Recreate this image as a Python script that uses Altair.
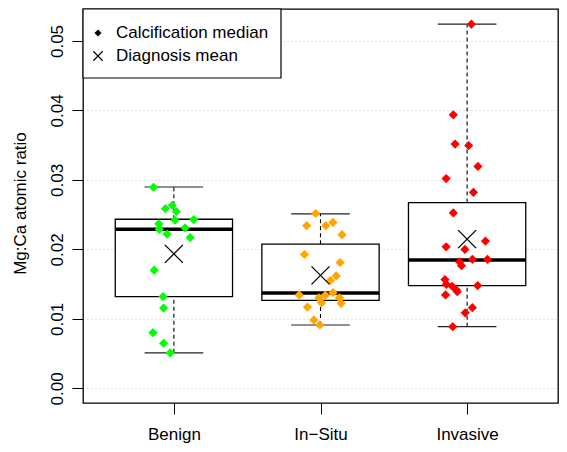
import json
import altair as alt
import pandas as pd

# ---------------- data ----------------
categories = ["Benign", "In\u2212Situ", "Invasive"]
cat_colors = ["#00FF00", "#FFA500", "#FF0000"]
positions = [1, 2, 3]

benign_vals = [0.02895, 0.02636, 0.02586, 0.02545, 0.02429, 0.02420, 0.02369, 0.02290,
               0.02310, 0.02221, 0.02171, 0.01701, 0.01322, 0.01156, 0.00802, 0.00650, 0.00512]
benign_jit = [-0.139, -0.011, -0.058, 0.017, 0.136, 0.007, -0.103, -0.100,
              0.076, -0.047, 0.111, -0.134, -0.074, -0.070, -0.143, -0.070, -0.025]

insitu_vals = [0.02517, 0.02342, 0.02342, 0.02388, 0.02213, 0.01927, 0.01812, 0.01618,
               0.01553, 0.01346, 0.01378, 0.01342, 0.01304, 0.01304, 0.01231, 0.01225,
               0.01170, 0.00986, 0.00913]
insitu_jit = [-0.033, -0.094, 0.036, 0.085, 0.147, -0.109, 0.134, 0.107,
              0.067, -0.145, 0.085, 0.033, -0.011, 0.129, 0.007, 0.141,
              -0.089, -0.045, -0.005]

invasive_vals = [0.05242, 0.03937, 0.03517, 0.03494, 0.03195, 0.03019, 0.02822, 0.02526,
                 0.02120, 0.02037, 0.02000, 0.01858, 0.01858, 0.01820, 0.01765, 0.01567,
                 0.01498, 0.01470, 0.01419, 0.01391, 0.01480, 0.01346, 0.01162, 0.01087,
                 0.00889]
invasive_jit = [0.029, -0.094, -0.082, 0.011, 0.074, -0.143, 0.043, -0.094,
                0.125, -0.143, -0.015, 0.036, 0.139, -0.051, -0.038, -0.151,
                -0.141, -0.102, -0.074, -0.067, 0.072, -0.147, 0.036, -0.013,
                -0.098]

box_low = [0.00512, 0.00913, 0.00889]
box_q1 = [0.01322, 0.01267, 0.01480]
box_median = [0.02290, 0.01373, 0.01848]
box_q3 = [0.02434, 0.02075, 0.02674]
box_high = [0.02899, 0.02512, 0.05242]
diag_mean = [0.01936, 0.01627, 0.02148]

y_ticks = [0.00, 0.01, 0.02, 0.03, 0.04, 0.05]
y_title = "Mg:Ca atomic ratio"
legend_labels = ["Calcification median", "Diagnosis mean"]

# ---------------- tables ----------------
rows = []
for cat, pos, vals, jits in zip(categories, positions,
                                [benign_vals, insitu_vals, invasive_vals],
                                [benign_jit, insitu_jit, invasive_jit]):
    for v, j in zip(vals, jits):
        rows.append({"category": cat, "pos": pos, "value": v, "jitter": j})
points_df = pd.DataFrame(rows)

box_df = pd.DataFrame({
    "category": categories, "pos": positions, "low": box_low, "q1": box_q1,
    "median": box_median, "q3": box_q3, "high": box_high, "mean": diag_mean,
})

BOXHALF = 0.4
STAPLEHALF = 0.2
X_PATH = "M-1,-1L1,1M1,-1L-1,1"
FONT = "Liberation Sans"

x_scale = alt.Scale(domain=[0.38, 3.62], nice=False, zero=False)
y_scale = alt.Scale(domain=[-0.0021, 0.0546], nice=False, zero=False)

label_expr = json.dumps(categories, ensure_ascii=False) + "[datum.value - 1]"
x_axis = alt.Axis(values=positions, labelExpr=label_expr, title=None, grid=False,
                  tickSize=11, labelPadding=25, labelBaseline="alphabetic",
                  domain=False)
y_axis = alt.Axis(values=y_ticks, format=".2f", title=y_title, grid=True,
                  gridDash=[1, 3], gridColor="#C8C8C8", gridWidth=1,
                  tickSize=11, labelAngle=270, labelAlign="center",
                  labelBaseline="alphabetic", labelPadding=10,
                  titleX=-63, titleY=194, titleAngle=270, titleAlign="center",
                  titleBaseline="middle", domain=False)


def X(field):
    return alt.X(field, type="quantitative", scale=x_scale, axis=x_axis)


def Y(field):
    return alt.Y(field, type="quantitative", scale=y_scale, axis=y_axis)


box_base = alt.Chart(box_df).transform_calculate(
    xl=f"datum.pos - {BOXHALF}", xr=f"datum.pos + {BOXHALF}",
    sl=f"datum.pos - {STAPLEHALF}", sr=f"datum.pos + {STAPLEHALF}",
)

whisk_up = box_base.mark_rule(color="black", strokeWidth=1.1, strokeDash=[4, 3]).encode(
    x=X("pos"), y=Y("q3"), y2="high")
whisk_lo = box_base.mark_rule(color="black", strokeWidth=1.1, strokeDash=[4, 3]).encode(
    x=X("pos"), y=Y("low"), y2="q1")
staple_up = box_base.mark_rule(color="#222222", strokeWidth=1.1).encode(
    x=X("sl"), x2="sr", y=Y("high"))
staple_lo = box_base.mark_rule(color="#222222", strokeWidth=1.1).encode(
    x=X("sl"), x2="sr", y=Y("low"))
boxes = box_base.mark_rect(fill="white", stroke="black", strokeWidth=1.3).encode(
    x=X("xl"), x2="xr", y=Y("q1"), y2="q3")
medians = box_base.mark_rule(color="black", strokeWidth=3.5).encode(
    x=X("xl"), x2="xr", y=Y("median"))

pts = alt.Chart(points_df).transform_calculate(
    xj="datum.pos + datum.jitter"
).mark_point(shape="diamond", filled=True, size=85, opacity=1, strokeWidth=0).encode(
    x=X("xj"), y=Y("value"),
    color=alt.Color("category:N", scale=alt.Scale(domain=categories, range=cat_colors),
                    legend=None),
)

means = box_base.mark_point(shape=X_PATH, filled=False, size=324, color="black",
                            strokeWidth=1.3, opacity=1).encode(
    x=X("pos"), y=Y("mean"))

# ---------------- manual legend ----------------
leg_df = pd.DataFrame({"label": legend_labels})
leg_box = alt.Chart(leg_df.head(1)).mark_rect(fill="white", stroke="black", strokeWidth=1.2).encode(
    x=alt.value(0), x2=alt.value(198), y=alt.value(0), y2=alt.value(69))
leg_sym1 = alt.Chart(leg_df.head(1)).mark_point(shape="diamond", filled=True, size=50,
                                                 color="black", opacity=1).encode(
    x=alt.value(15), y=alt.value(24))
leg_sym2 = alt.Chart(leg_df.head(1)).mark_point(shape=X_PATH, filled=False, size=90,
                                                 color="black", strokeWidth=1.1,
                                                 opacity=1).encode(
    x=alt.value(15), y=alt.value(47))
leg_txt1 = alt.Chart(leg_df.head(1)).mark_text(align="left", baseline="middle", font=FONT,
                                               fontSize=17, color="black").encode(
    x=alt.value(33), y=alt.value(24), text="label:N")
leg_txt2 = alt.Chart(leg_df.tail(1)).mark_text(align="left", baseline="middle", font=FONT,
                                               fontSize=17, color="black").encode(
    x=alt.value(33), y=alt.value(47), text="label:N")

chart = alt.layer(
    whisk_up, whisk_lo, staple_up, staple_lo, boxes, medians, pts, means,
    leg_box, leg_sym1, leg_sym2, leg_txt1, leg_txt2,
).properties(
    width=475, height=394, autosize="none",
    padding={"left": 75, "top": 1, "right": 1, "bottom": 41},
    background="white",
).configure_view(
    stroke="black", strokeWidth=1.3,
).configure_axis(
    labelFont=FONT, titleFont=FONT, labelFontSize=17, titleFontSize=17,
    titleFontWeight="normal", labelColor="black", titleColor="black",
    tickColor="black", tickWidth=1,
)

chart.save("out.html", embed_options={"renderer": "svg", "actions": False})
